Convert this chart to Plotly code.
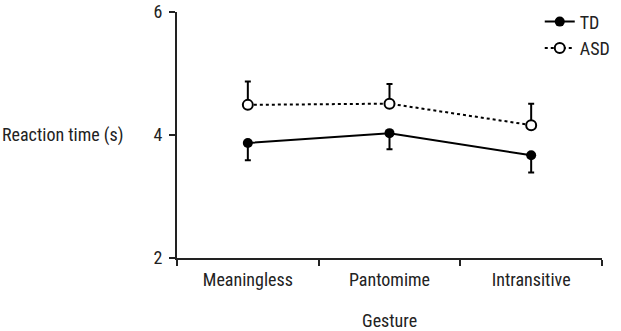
import plotly.graph_objects as go

categories = ["Meaningless", "Pantomime", "Intransitive"]
td_mean = [3.87, 4.03, 3.67]
td_err = [0.28, 0.26, 0.28]
asd_mean = [4.49, 4.51, 4.16]
asd_err = [0.38, 0.32, 0.35]
y_ticks = [2, 4, 6]

FONT = "Liberation Sans Narrow, Arial Narrow, Roboto Condensed, Roboto, sans-serif"

fig = go.Figure()
fig.add_trace(go.Scatter(
    x=categories, y=td_mean, name="TD", mode="lines+markers",
    line=dict(color="black", width=2),
    marker=dict(symbol="circle", size=10, color="black"),
    error_y=dict(type="data", symmetric=False, array=[0, 0, 0], arrayminus=td_err,
                 color="black", thickness=2, width=3),
))
fig.add_trace(go.Scatter(
    x=categories, y=asd_mean, name="ASD", mode="lines+markers",
    line=dict(color="black", width=2, dash="dot"),
    marker=dict(symbol="circle", size=10, color="white", line=dict(width=2, color="black")),
    error_y=dict(type="data", symmetric=False, array=asd_err, arrayminus=[0, 0, 0],
                 color="black", thickness=2, width=3),
))

fig.update_layout(
    width=621, height=331,
    margin=dict(l=177, r=19, t=12, b=73, autoexpand=False),
    plot_bgcolor="white", paper_bgcolor="white",
    font=dict(family=FONT, size=18, color="#222"),
    showlegend=True,
    legend=dict(x=1.03, y=1.035, xanchor="right", yanchor="top",
                font=dict(size=18), itemwidth=30, tracegroupgap=6,
                bgcolor="rgba(0,0,0,0)"),
    xaxis=dict(
        type="category", tickson="boundaries", ticks="outside", ticklen=6,
        tickwidth=2, tickcolor="#222", showline=True, linecolor="#222", linewidth=2,
        showgrid=False, zeroline=False, range=[-0.5, 2.5], ticklabelstandoff=4,
        automargin=False,
    ),
    yaxis=dict(
        range=[2, 6], tickvals=y_ticks, ticks="outside", ticklen=6, tickwidth=2,
        tickcolor="#222", showline=True, linecolor="#222", linewidth=2,
        showgrid=False, zeroline=False, ticklabelstandoff=3, ticklabeloverflow="allow",
        automargin=False,
    ),
    annotations=[
        dict(text="Reaction time (s)", xref="paper", yref="paper",
             x=-177/425, y=0.5, xanchor="left", yanchor="middle",
             showarrow=False, font=dict(size=18)),
        dict(text="Gesture", xref="paper", yref="paper",
             x=0.5, y=-62/246, xanchor="center", yanchor="middle",
             showarrow=False, font=dict(size=18)),
    ],
)

fig.write_html("out.html")
